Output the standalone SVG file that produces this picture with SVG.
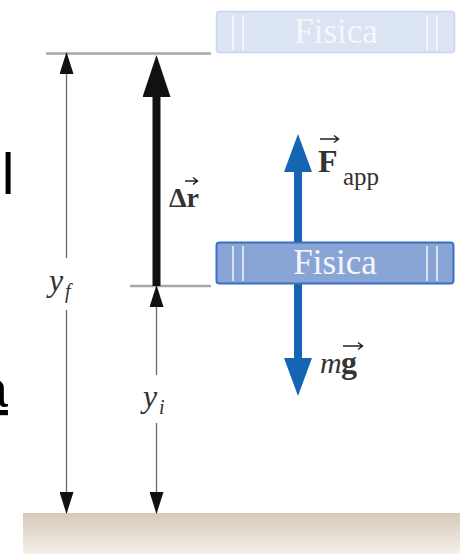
<svg xmlns="http://www.w3.org/2000/svg" width="468" height="554" viewBox="0 0 468 554">
<style>
.gray{stroke:#a8a8a8;stroke-width:2.5;fill:none}
.dim{stroke:#6a6a6a;stroke-width:1.3;fill:none}
.blue{stroke:#1565b2;stroke-width:8;fill:none}
.blk{stroke:#111;stroke-width:8;fill:none}
.lbl{font-family:"Liberation Serif",serif;fill:#333}
.book{font-family:"Liberation Serif",serif;font-size:35px;text-anchor:middle;fill:#f4f7fc}
.frag{font-family:"Liberation Sans",Arial,sans-serif;fill:#000}
</style>
<defs>
<marker id="dimHead" markerUnits="userSpaceOnUse" markerWidth="22" markerHeight="14" refX="21" refY="7" orient="auto">
<path d="M0,0 L22,7 L0,14 Z" fill="#111"/>
</marker>
<marker id="bigBlack" markerUnits="userSpaceOnUse" markerWidth="44" markerHeight="28" refX="2" refY="14" orient="auto">
<path d="M0,0 L42,14 L0,28 Z" fill="#111"/>
</marker>
<marker id="bigBlue" markerUnits="userSpaceOnUse" markerWidth="40" markerHeight="28" refX="2" refY="14" orient="auto">
<path d="M0,0 L38,14 L0,28 Z" fill="#1565b2"/>
</marker>
<linearGradient id="gnd" x1="0" y1="0" x2="0" y2="1">
<stop offset="0" stop-color="#d6c9ba"/>
<stop offset="1" stop-color="#f4f0ea"/>
</linearGradient>
</defs>

<g id="fragments">
<text class="frag" x="-30" y="194" font-size="57">el</text>
<text class="frag" x="-21" y="407" font-size="52" text-decoration="underline">a</text>
</g>

<g id="ground">
<rect x="23" y="513" width="437" height="41" fill="url(#gnd)"/>
</g>

<g id="levels">
<line class="gray" x1="46" y1="53.5" x2="211" y2="53.5"/>
<line class="gray" x1="130" y1="286" x2="211" y2="286"/>
</g>

<g id="connectors">
<line class="dim" x1="66.5" y1="258" x2="66.5" y2="53" marker-end="url(#dimHead)"/>
<line class="dim" x1="66.5" y1="310" x2="66.5" y2="513" marker-end="url(#dimHead)"/>
<line class="dim" x1="156.5" y1="375" x2="156.5" y2="286" marker-end="url(#dimHead)"/>
<line class="dim" x1="156.5" y1="423" x2="156.5" y2="513" marker-end="url(#dimHead)"/>
<line class="blk" x1="156.5" y1="286" x2="156.5" y2="95" marker-end="url(#bigBlack)"/>
<line class="blue" x1="298" y1="262" x2="298" y2="170" marker-end="url(#bigBlue)"/>
<line class="blue" x1="298" y1="262" x2="298" y2="360" marker-end="url(#bigBlue)"/>
</g>

<g id="book-final" opacity="1">
<rect x="216.5" y="11.5" width="238" height="41" rx="3" fill="#dbe4f3" stroke="#c8d5ec" stroke-width="1.5"/>
<g stroke="#f6f8fc" stroke-width="1.6">
<line x1="233" y1="15" x2="233" y2="50"/><line x1="243" y1="15" x2="243" y2="50"/>
<line x1="427" y1="15" x2="427" y2="50"/><line x1="437" y1="15" x2="437" y2="50"/>
</g>
<text class="book" x="336" y="43" fill="#f6f8fc">Fisica</text>
</g>

<g id="book-initial">
<rect x="216.5" y="242.5" width="237" height="41" rx="3" fill="#89a5d6" stroke="#3e6fc0" stroke-width="2"/>
<g stroke="#eef2fa" stroke-width="1.6">
<line x1="233" y1="246" x2="233" y2="281"/><line x1="243" y1="246" x2="243" y2="281"/>
<line x1="427" y1="246" x2="427" y2="281"/><line x1="437" y1="246" x2="437" y2="281"/>
</g>
<text class="book" x="335" y="274">Fisica</text>
</g>

<g id="label-yf">
<text class="lbl" x="49" y="291" font-size="32" font-style="italic">y</text>
<text class="lbl" x="65" y="298" font-size="20" font-style="italic">f</text>
</g>
<g id="label-yi">
<text class="lbl" x="143" y="407" font-size="32" font-style="italic">y</text>
<text class="lbl" x="159" y="414" font-size="20" font-style="italic">i</text>
</g>

<g id="label-dr">
<text class="lbl" x="169" y="207" font-size="28" font-weight="bold" fill="#222">Δr</text>
<path d="M185,181 L197,181 M193,177.5 L197.5,181 L193,184.5" stroke="#222" stroke-width="1.5" fill="none"/>
</g>

<g id="label-Fapp">
<text class="lbl" x="318" y="172" font-size="32" font-weight="bold" fill="#222">F</text>
<text class="lbl" x="343" y="185" font-size="25" fill="#444">app</text>
<path d="M320,139 L338,139 M334,135.5 L338.5,139 L334,142.5" stroke="#222" stroke-width="1.5" fill="none"/>
</g>

<g id="label-mg">
<text class="lbl" x="320" y="373" font-size="30" font-style="italic" fill="#333">m</text>
<text class="lbl" x="341" y="373" font-size="32" font-weight="bold" fill="#222">g</text>
<path d="M343,346 L362,346 M358,342.5 L362.5,346 L358,349.5" stroke="#222" stroke-width="1.5" fill="none"/>
</g>
</svg>
